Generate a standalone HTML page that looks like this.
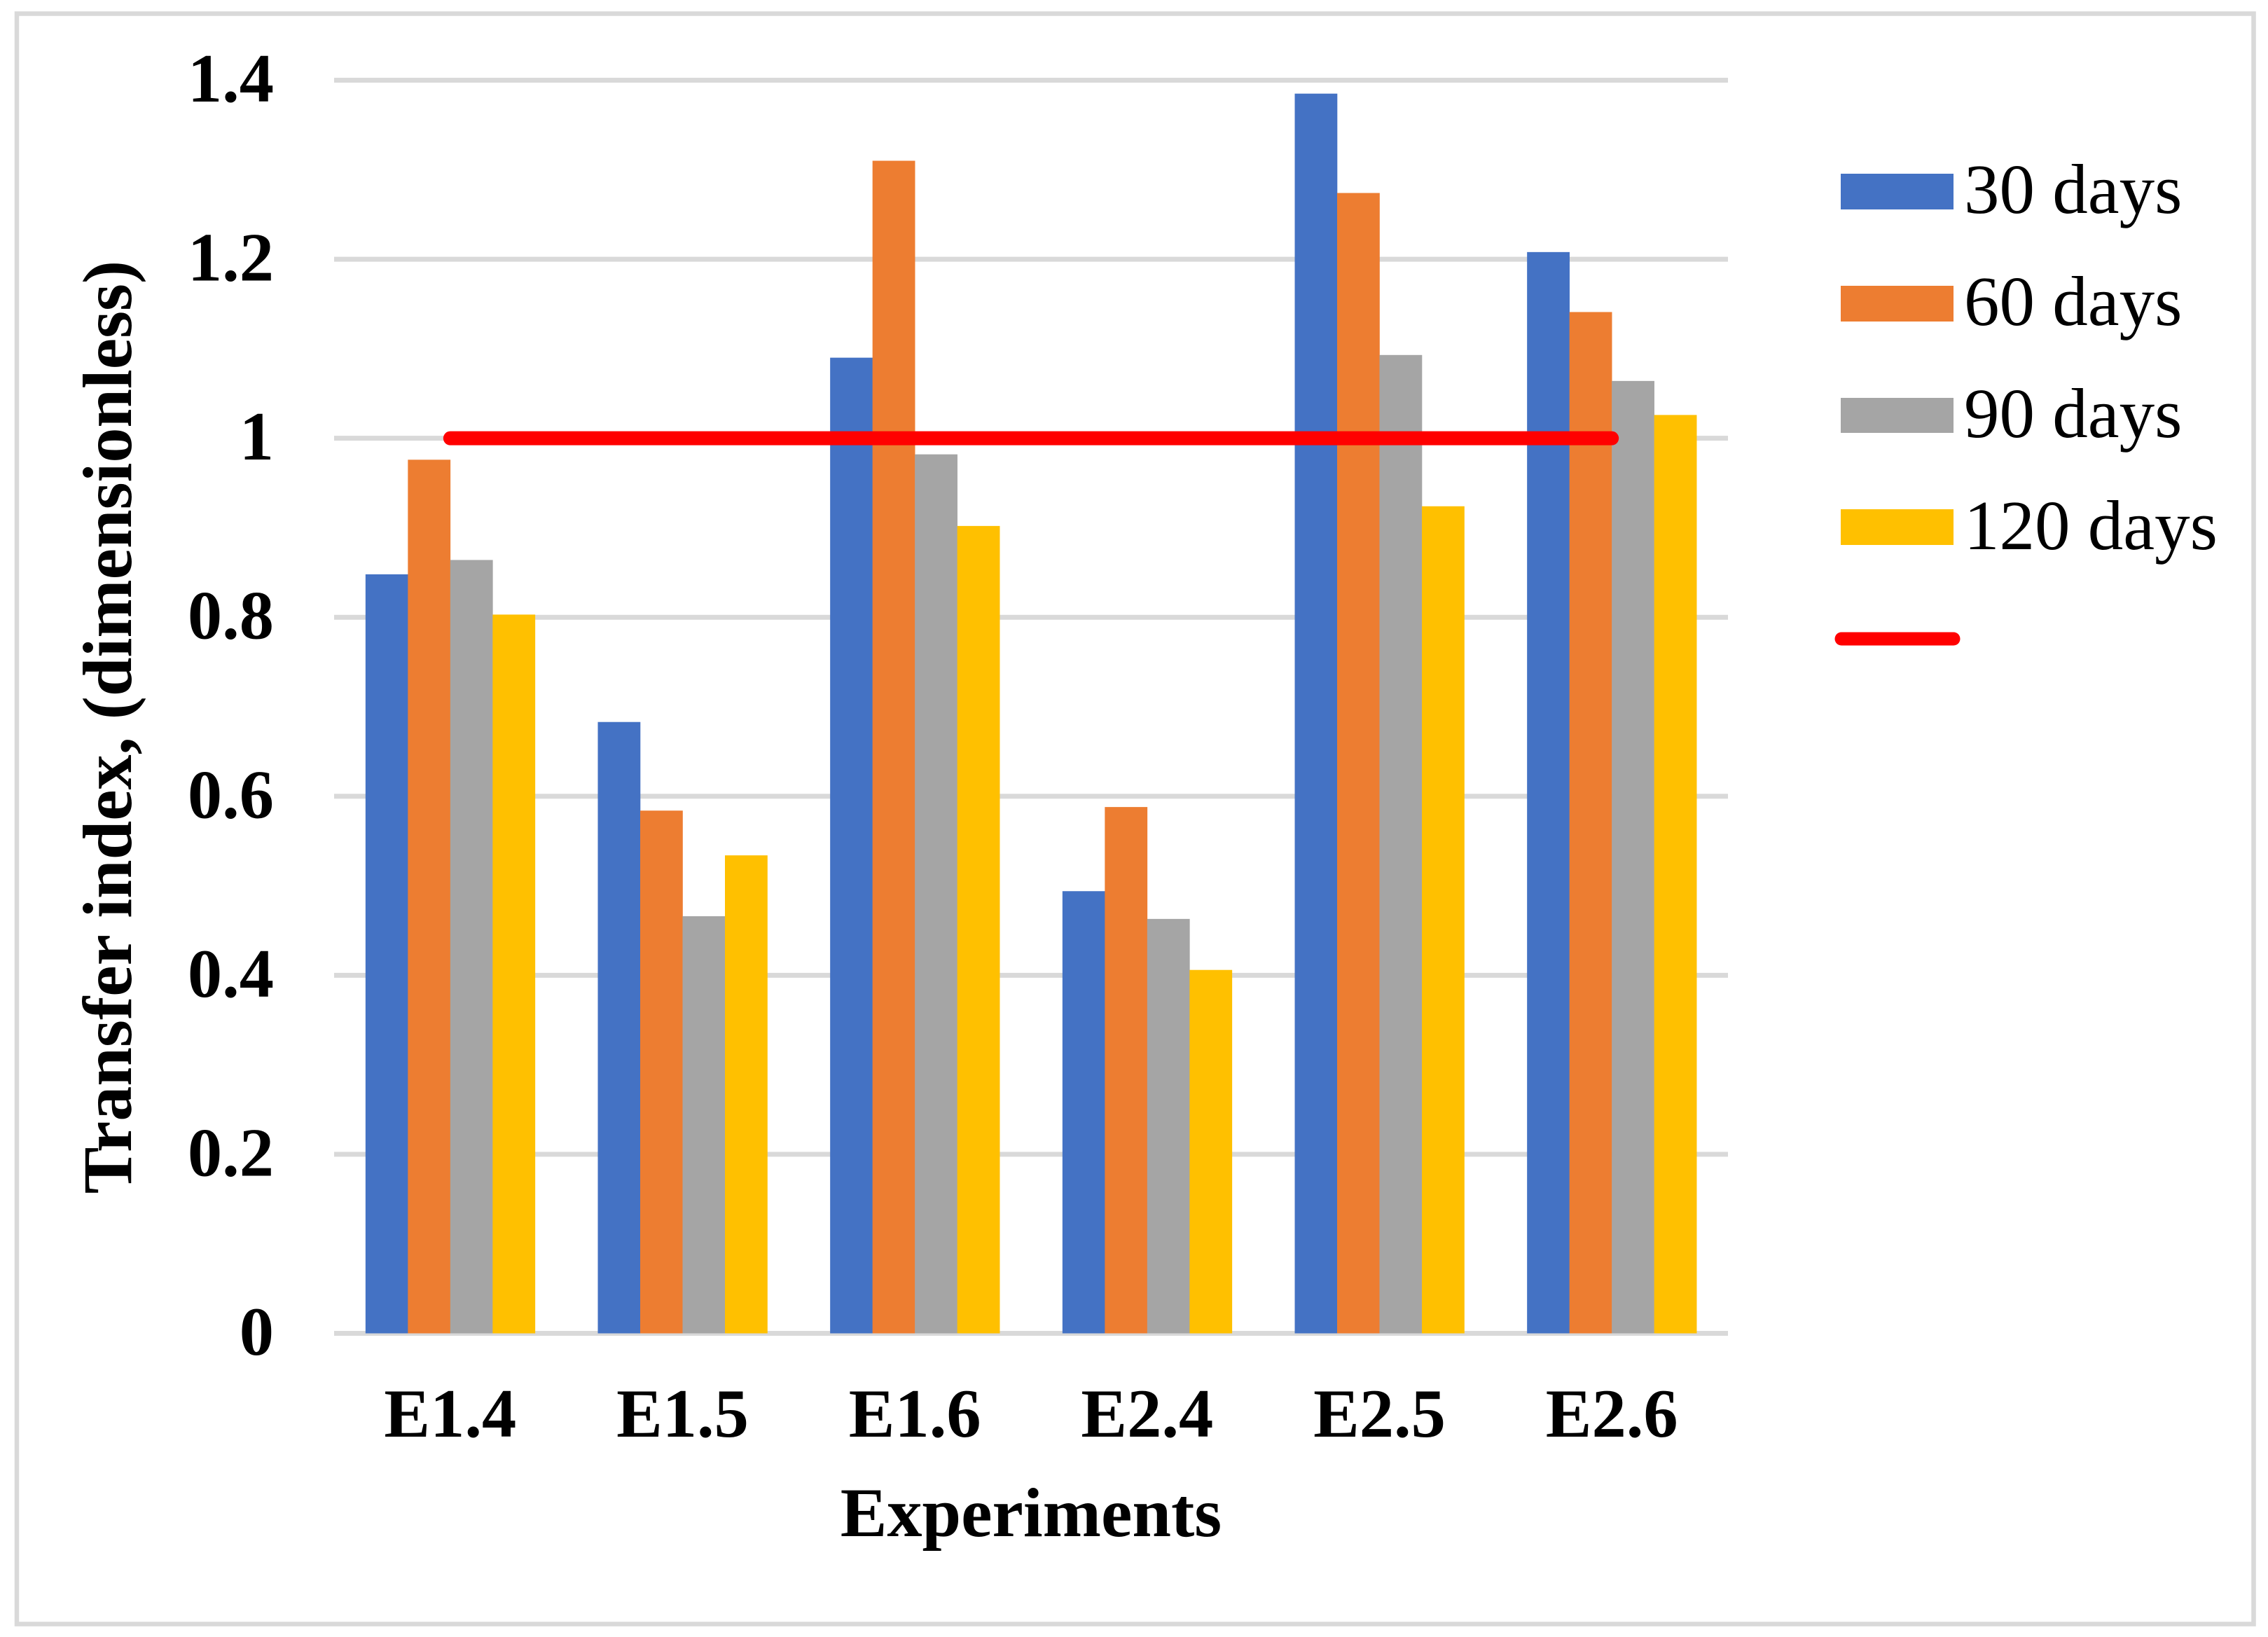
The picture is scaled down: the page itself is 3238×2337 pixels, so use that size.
<!DOCTYPE html>
<html lang="en">
<head>
<meta charset="utf-8">
<title>Transfer index chart</title>
<style>
html,body{margin:0;padding:0;background:#fff;}
svg{display:block;}
text{font-family:"Liberation Serif","Times New Roman",serif;fill:#000;}
.b{font-weight:bold;font-size:98.5px;}
.t{font-weight:bold;font-size:100px;}
.l{font-size:101px;}
</style>
</head>
<body>
<svg id="chart" xmlns="http://www.w3.org/2000/svg" width="3238" height="2337" viewBox="0 0 3238 2337">
<rect x="0" y="0" width="3238" height="2337" fill="#ffffff"/>
<rect x="24" y="19.5" width="3193.5" height="2299" fill="none" stroke="#d9d9d9" stroke-width="6.5"/>
<g id="grid"></g>
<g id="bars"></g>
<g id="line"></g>
<g id="yticks"></g>
<g id="xticks"></g>
<text class="t" x="1472" y="2193" text-anchor="middle">Experiments</text>
<text class="t" transform="translate(187 1038) rotate(-90)" text-anchor="middle">Transfer index, (dimensionless)</text>
<g>
<g>
<rect x="2628" y="248" width="161" height="51" fill="#4472c4"/>
<text class="l" x="2804" y="304">30 days</text>
</g>
<g>
<rect x="2628" y="408" width="161" height="51" fill="#ed7d31"/>
<text class="l" x="2804" y="464">60 days</text>
</g>
<g>
<rect x="2628" y="568" width="161" height="50" fill="#a5a5a5"/>
<text class="l" x="2804" y="624">90 days</text>
</g>
<g>
<rect x="2628" y="727" width="161" height="51" fill="#ffc000"/>
<text class="l" x="2804" y="784">120 days</text>
</g>
<line x1="2629" y1="912" x2="2789" y2="912" stroke="#ff0000" stroke-width="19" stroke-linecap="round"/>
</g>
</svg>
<script>
const categories = ["E1.4", "E1.5", "E1.6", "E2.4", "E2.5", "E2.6"];
const days30 = [0.848, 0.683, 1.09, 0.494, 1.385, 1.208];
const days60 = [0.976, 0.584, 1.31, 0.588, 1.274, 1.141];
const days90 = [0.864, 0.466, 0.982, 0.463, 1.093, 1.064];
const days120 = [0.803, 0.534, 0.902, 0.406, 0.924, 1.026];
const threshold = [1, 1, 1, 1, 1, 1];
const yTicks = [0, 0.2, 0.4, 0.6, 0.8, 1, 1.2, 1.4];
const yTickLabels = ["0", "0.2", "0.4", "0.6", "0.8", "1", "1.2", "1.4"];
const seriesNames = ["30-days", "60-days", "90-days", "120-days"];
const seriesColors = ["#4472c4", "#ed7d31", "#a5a5a5", "#ffc000"];

const NS = "http://www.w3.org/2000/svg";
const plotLeft = 477, plotRight = 2467, y0 = 1903.5, y14 = 114.5;
const groupWidth = (plotRight - plotLeft) / categories.length;
const barWidth = 60.5;
function yScale(v) { return y0 + (y14 - y0) * v / 1.4; }
function xCenter(i) { return plotLeft + groupWidth * (i + 0.5); }
function make(tag, attrs, parent) {
  const el = document.createElementNS(NS, tag);
  for (const k in attrs) el.setAttribute(k, attrs[k]);
  parent.appendChild(el);
  return el;
}
const grid = document.getElementById("grid");
const bars = document.getElementById("bars");
const lineG = document.getElementById("line");
const yG = document.getElementById("yticks");
const xG = document.getElementById("xticks");

yTicks.forEach(function (t, i) {
  const g = make("line", {x1: plotLeft, x2: plotRight, y1: yScale(t), y2: yScale(t), stroke: "#d9d9d9", "stroke-width": 7}, grid);
  
  
  const lab = make("text", {x: 391, y: yScale(t) + 30.5, "text-anchor": "end", "class": "b"}, yG);
  lab.textContent = yTickLabels[i];
  
  
});

[days30, days60, days90, days120].forEach(function (vals, s) {
  vals.forEach(function (v, i) {
    const r = make("rect", {
      x: xCenter(i) + (s - 2) * barWidth,
      y: yScale(v),
      width: barWidth + 0.3,
      height: yScale(0) - yScale(v),
      fill: seriesColors[s]
    }, bars);
    
    
  });
});

categories.forEach(function (c, i) {
  const lab = make("text", {x: xCenter(i), y: 2051, "text-anchor": "middle", "class": "b"}, xG);
  lab.textContent = c;
  
  
});

const pts = threshold.map(function (v, i) { return xCenter(i) + "," + yScale(v); }).join(" ");
const pl = make("polyline", {points: pts, fill: "none", stroke: "#ff0000", "stroke-width": 20, "stroke-linecap": "round"}, lineG);


</script>
</body>
</html>
